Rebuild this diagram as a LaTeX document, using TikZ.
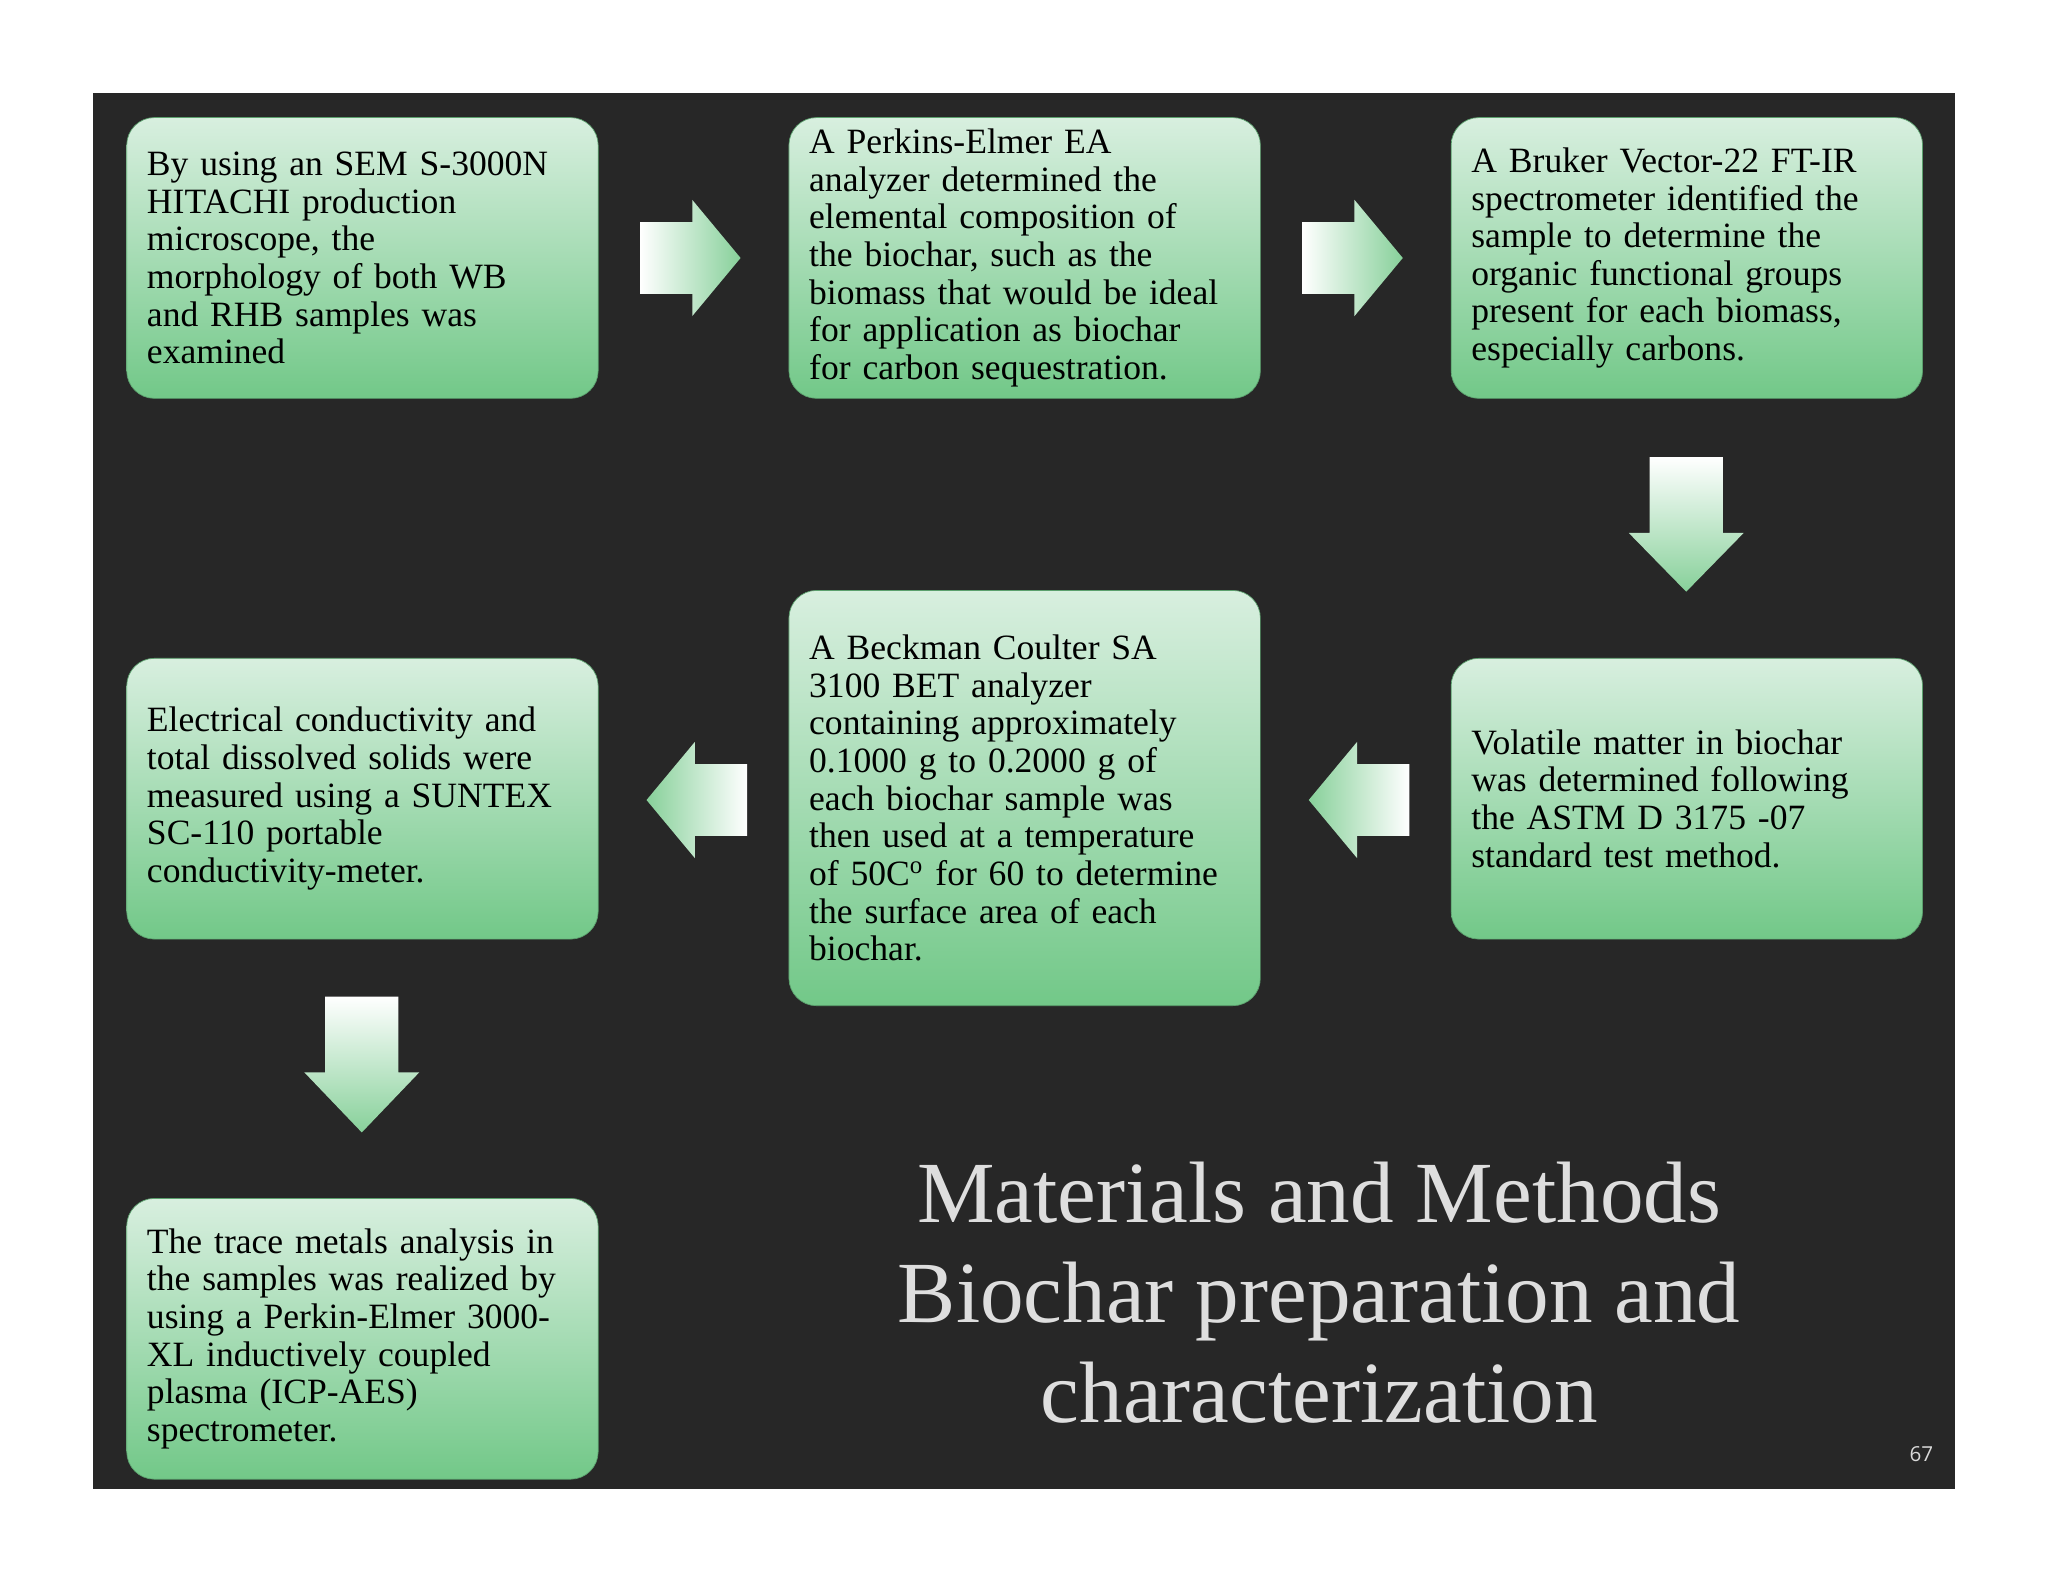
\documentclass[tikz,border=0pt]{standalone}
\usepackage{fontspec}
\setmainfont{Liberation Serif}
\newfontfamily\pgnum{Open Sans}
\begin{document}
\begin{tikzpicture}[x=0.02cm,y=-0.02cm,
 box/.style={rounded corners=12pt,top color=boxtop,bottom color=boxbot,draw=boxbot!80!black,line width=0.3pt,minimum width=7.22cm,minimum height=4.3cm,text width=6.6cm,align=left,font=\fontsize{15.5}{16.4}\selectfont,inner sep=0pt},
 harrowR/.style={left color=white,right color=boxbot!85!white,draw=none},
 harrowL/.style={right color=white,left color=boxbot!85!white,draw=none},
 varrow/.style={top color=white,bottom color=boxbot!85!white,draw=none}]
\definecolor{boxtop}{HTML}{D8EFDF}
\definecolor{boxbot}{HTML}{72C888}
\definecolor{bg}{HTML}{272727}
\useasboundingbox (0,0) rectangle (1568,1211);
\fill[white] (0,0) rectangle (1568,1211);
\fill[bg] (71,71) rectangle (1497,1140);
\node[box] (b1) at (277.5,197.5) {By using an SEM S-3000N\\HITACHI production\\microscope, the\\morphology of both WB\\and RHB samples was\\examined};
\node[box] (b2) at (784.5,197.5) {A Perkins-Elmer EA\\analyzer determined the\\elemental composition of\\the biochar, such as the\\biomass that would be ideal\\for application as biochar\\for carbon sequestration.};
\node[box] (b3) at (1291.5,197.5) {A Bruker Vector-22 FT-IR\\spectrometer identified the\\sample to determine the\\organic functional groups\\present for each biomass,\\especially carbons.};
\node[box] (b4) at (1291.5,611.5) {Volatile matter in biochar\\was determined following\\the ASTM D 3175 -07\\standard test method.};
\node[box,minimum height=6.36cm] (b5) at (784.5,611) {A Beckman Coulter SA\\3100 BET analyzer\\containing approximately\\0.1000 g to 0.2000 g of\\each biochar sample was\\then used at a temperature\\of 50C$^{\mathrm{o}}$ for 60 to determine\\the surface area of each\\biochar.};
\node[box] (b6) at (277.5,611.5) {Electrical conductivity and\\total dissolved solids were\\measured using a SUNTEX\\SC-110 portable\\conductivity-meter.};
\node[box] (b7) at (277.5,1025) {The trace metals analysis in\\the samples was realized by\\using a Perkin-Elmer 3000-\\XL inductively coupled\\plasma (ICP-AES)\\spectrometer.};
% right arrows
\foreach \x in {490,997}{
 \path[harrowR] (\x,170) -- (\x+40,170) -- (\x+40,153) -- (\x+77,197.5) -- (\x+40,242) -- (\x+40,225) -- (\x,225) -- cycle;}
% left arrows
\foreach \x in {572,1079}{
 \path[harrowL] (\x,585) -- (\x-40,585) -- (\x-40,568) -- (\x-77,612.5) -- (\x-40,657) -- (\x-40,640) -- (\x,640) -- cycle;}
% down arrows
\path[varrow] (1263,350) -- (1319,350) -- (1319,408) -- (1335,408) -- (1291,453) -- (1247,408) -- (1263,408) -- cycle;
\path[varrow] (249,763) -- (305,763) -- (305,821) -- (321,821) -- (277,867) -- (233,821) -- (249,821) -- cycle;
\node[text=white!87!black,align=center,font=\fontsize{38}{43.6}\selectfont] (title) at (1010,990) {Materials and Methods\\Biochar preparation and\\characterization};
\node[text=white!85!black,font=\pgnum\fontsize{9}{10}\selectfont] (pn) at (1471,1113) {67};
\end{tikzpicture}
\end{document}
